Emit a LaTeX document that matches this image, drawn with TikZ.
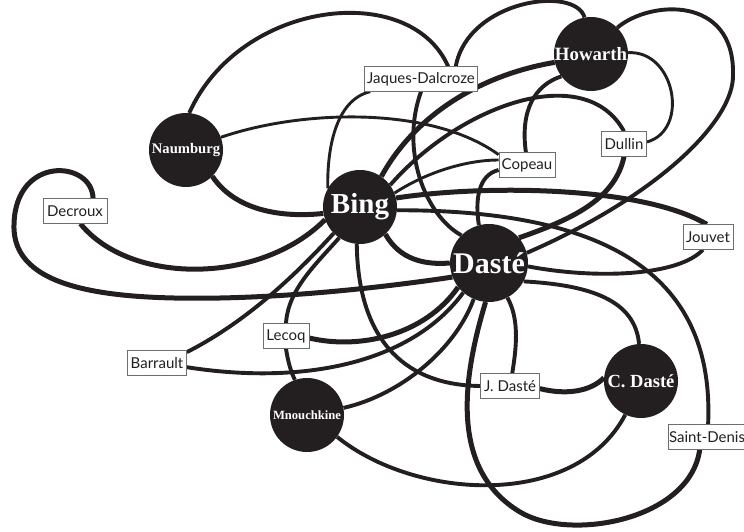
\documentclass[tikz,border=0pt]{standalone}
\usepackage{fontspec}
\setmainfont{Liberation Serif}
\newfontfamily\boxfont{Lato}
\usepackage{tikz}
\usetikzlibrary{backgrounds}
\definecolor{ink}{HTML}{231F20}
\definecolor{boxline}{HTML}{6D6E71}

\begin{document}
\begin{tikzpicture}[x=1pt, y=-1pt,
		person/.style={circle, fill=ink, text=white, inner sep=0pt, minimum size=74pt},
		namebox/.style={draw=boxline, line width=0.8pt, fill=white, text=ink, inner sep=0pt, minimum height=24.5pt, font=\boxfont\fontsize{15}{17}\selectfont},
		link/.style={draw=ink, line width=3.9pt},
		thinlink/.style={link, line width=2.9pt},
		thicklink/.style={link, line width=5pt}]
		\useasboundingbox (0,0) rectangle (744,532);
		% people:
		\node[person, font=\bfseries\fontsize{29}{30}\selectfont] (bing) at (360,207) {Bing};
		\node[person, minimum size=78pt, font=\bfseries\fontsize{30}{30}\selectfont] (daste) at (489,263) {Dasté};
		\node[person, font=\bfseries\fontsize{18.8}{20}\selectfont] (howarth) at (591,54) {Howarth};
		\node[person, font=\bfseries\fontsize{14.6}{16}\selectfont] (naumburg) at (186,150) {Naumburg};
		\node[person, font=\bfseries\fontsize{12.6}{14}\selectfont] (mnouchkine) at (307,415) {Mnouchkine};
		\node[person, font=\bfseries\fontsize{18.5}{20}\selectfont] (cdaste) at (641,381) {C. Dasté};
		% boxes:
		\foreach \name/\x/\y/\w/\txt in {jd/421/79/113/Jaques-Dalcroze, copeau/527/165/56/Copeau,
			dullin/624/144/45/Dullin, decroux/75/211/64/Decroux, jouvet/708/237/50/Jouvet,
			lecoq/286/336/46/Lecoq, barrault/157/363/59/Barrault, jdaste/510/386/59/J.~Dasté,
			stdenis/707/437/78/Saint-Denis}{
			\node[namebox, minimum width=\w] (\name) at (\x,\y) {\txt};
		}
		\begin{scope}[on background layer]
			% from Bing
			\draw[thicklink] (bing.55) .. controls (415,115) and (480,75) .. (howarth.193);
			\draw[link] (bing.36) .. controls (460,105) and (585,60) .. (dullin.north);
			\draw[thinlink] (bing.22) .. controls (430,170) and (470,160) .. (copeau.170);
			\draw[thicklink] (bing.14) .. controls (480,185) and (640,185) .. (jouvet.95);
			\draw[link] (bing.-5) .. controls (600,210) and (715,270) .. (stdenis.85);
			\draw[thicklink] (bing.-47) .. controls (400,260) and (425,265) .. (daste.180);
			\draw[link] (bing.265) .. controls (358,335) and (400,385) .. (jdaste.180);
			\draw[link] (bing.236) .. controls (315,265) and (288,290) .. (lecoq.north);
			\draw[link] (lecoq.south) .. controls (288,362) and (291,372) .. (mnouchkine.109);
			% Naumburg
			\draw[link] (naumburg.85) .. controls (240,0) and (410,-20) .. (jd.25);
			\draw[thinlink] (naumburg.20) .. controls (300,110) and (430,105) .. (copeau.160);
			\draw[thicklink] (naumburg.-45) .. controls (235,210) and (280,218) .. (bing.190);
			% Jaques-Dalcroze
			\draw[link] (jd.20) .. controls (468,0) and (575,-15) .. (howarth.100);
			\draw[thinlink] (jd.194) .. controls (335,100) and (327,150) .. (bing.150);
			\draw[link] (jd.south) .. controls (400,150) and (425,215) .. (daste.135);
			% Decroux
			\draw[thicklink] (decroux.35) .. controls (92,160) and (15,155) .. (14,225)
				.. controls (12,290) and (110,300) .. (220,298)
				.. controls (320,296) and (420,282) .. (daste.201);
			\draw[thicklink] (decroux.-67) .. controls (130,285) and (260,285) .. (bing.200);
			% Barrault, Lecoq
			\draw[link] (barrault.20) .. controls (250,320) and (300,270) .. (bing.225);
			\draw[link] (barrault.-8) .. controls (300,385) and (410,365) .. (daste.229);
			\draw[thicklink] (lecoq.-5) .. controls (360,350) and (425,335) .. (daste.218);
			% Mnouchkine
			\draw[link] (mnouchkine.11) .. controls (400,395) and (455,350) .. (daste.247);
			\draw[link] (mnouchkine.-36) .. controls (415,500) and (575,510) .. (cdaste.245);
			% Howarth
			\draw[thinlink] (howarth.2) .. controls (675,50) and (690,130) .. (dullin.5);
			\draw[link] (howarth.45) .. controls (650,0) and (735,-5) .. (733,75)
				.. controls (734,120) and (660,195) .. (daste.15);
			% Copeau, Dullin, Jouvet
			\draw[link] (copeau.95) .. controls (520,110) and (535,85) .. (howarth.217);
			\draw[link] (copeau.190) .. controls (478,175) and (475,200) .. (daste.105);
			\draw[thicklink] (dullin.south) .. controls (615,200) and (570,220) .. (daste.40);
			\draw[link] (jouvet.248) .. controls (680,275) and (600,280) .. (daste.-5);
			% Daste
			\draw[link] (daste.-28) .. controls (590,285) and (635,300) .. (cdaste.93);
			\draw[link] (daste.-62) .. controls (520,320) and (516,350) .. (jdaste.80);
			\draw[thicklink] (daste.-95) .. controls (462,380) and (450,470) .. (520,512)
				.. controls (570,542) and (690,520) .. (stdenis.240);
			\draw[thicklink] (jdaste.-5) .. controls (565,395) and (590,392) .. (cdaste.175);
		\end{scope}
	\end{tikzpicture}
\end{document}
